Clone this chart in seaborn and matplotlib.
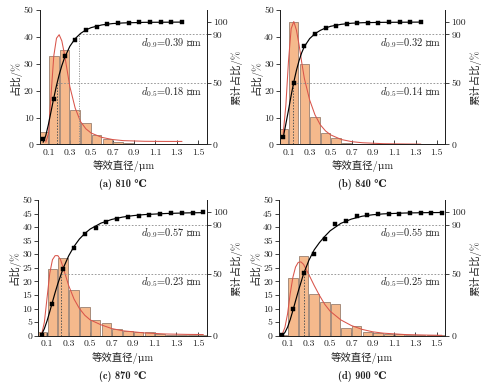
import matplotlib
matplotlib.use("Agg")
import matplotlib.pyplot as plt
import matplotlib.transforms as mtransforms
import seaborn as sns

sns.set_style("ticks")
plt.rcParams['font.family'] = ['cmr10', 'DejaVu Serif', 'Noto Sans CJK SC']
plt.rcParams['mathtext.fontset'] = 'cm'
plt.rcParams['axes.formatter.use_mathtext'] = True
plt.rcParams['axes.unicode_minus'] = False

# ---------------- data ----------------
centers_ab = [0.05, 0.15, 0.25, 0.35, 0.45, 0.55, 0.65, 0.75, 0.85, 0.95, 1.05, 1.15, 1.25, 1.35]
centers_cd = [0.05, 0.15, 0.25, 0.35, 0.45, 0.55, 0.65, 0.75, 0.85, 0.95, 1.05, 1.15, 1.25, 1.35, 1.45, 1.55]

bars_a = [4.7, 32.8, 35.0, 12.8, 8.0, 3.6, 2.0, 1.0, 0.4, 0.3, 0.2, 0.1, 0.1, 0.1]
bars_b = [5.8, 45.7, 29.8, 10.3, 4.1, 2.4, 0.5, 0.3, 0.1, 0.1, 0.1, 0.1, 0.1, 0.1]
bars_c = [1.2, 24.4, 28.8, 16.9, 10.5, 5.6, 4.7, 2.4, 1.8, 1.5, 1.3, 0.5, 0.4, 0.4, 0.2, 0.3]
bars_d = [0.3, 21.2, 29.3, 15.2, 12.3, 11.6, 2.8, 3.7, 1.4, 1.0, 0.7, 0.5, 0.4, 0.4, 0.3, 0.2]

cum_a = [4.6, 37.4, 72.2, 85.2, 93.2, 96.1, 98.3, 99.1, 99.5, 99.7, 99.8, 99.9, 100.0, 100.0]
cum_b = [6.0, 50.4, 80.4, 90.3, 94.9, 97.1, 98.2, 99.0, 99.4, 99.6, 99.8, 99.9, 100.0, 100.0]
cum_c = [0.5, 25.5, 54.3, 71.4, 82.0, 87.4, 92.2, 94.4, 96.0, 97.1, 98.0, 98.8, 99.3, 99.6, 99.8, 100.0]
cum_d = [0.5, 21.7, 51.0, 66.5, 78.7, 90.3, 93.3, 97.1, 97.7, 98.5, 98.8, 99.0, 99.2, 99.4, 99.5, 99.6]

# fitted distribution curves
red_x_a = [0.075, 0.1, 0.125, 0.15, 0.175, 0.2, 0.225, 0.25, 0.275, 0.3, 0.35, 0.4, 0.45, 0.5, 0.6, 0.7, 0.8, 1.0, 1.2, 1.35]
red_y_a = [0.8, 4.0, 19.0, 33.0, 39.5, 40.8, 38.5, 33.5, 27.5, 21.5, 13.5, 8.5, 5.8, 4.2, 2.6, 1.8, 1.4, 1.15, 1.1, 1.1]
red_x_b = [0.05, 0.075, 0.1, 0.125, 0.15, 0.175, 0.2, 0.225, 0.25, 0.3, 0.35, 0.4, 0.45, 0.5, 0.6, 0.7, 0.8, 1.0, 1.2, 1.35]
red_y_b = [4.0, 14.5, 31.0, 43.0, 45.7, 42.5, 37.0, 30.5, 24.5, 16.5, 11.0, 7.3, 5.0, 3.5, 1.8, 1.0, 0.6, 0.25, 0.15, 0.1]
red_x_c = [0.05, 0.075, 0.1, 0.125, 0.15, 0.175, 0.2, 0.225, 0.25, 0.3, 0.35, 0.4, 0.45, 0.5, 0.6, 0.7, 0.8, 1.0, 1.2, 1.4, 1.55]
red_y_c = [0.5, 5.0, 14.0, 23.0, 28.0, 29.5, 29.5, 28.0, 25.0, 18.5, 13.5, 10.0, 7.5, 5.8, 4.0, 2.6, 1.8, 1.0, 0.6, 0.45, 0.4]
red_x_d = [0.05, 0.075, 0.1, 0.125, 0.15, 0.175, 0.2, 0.225, 0.25, 0.3, 0.35, 0.4, 0.45, 0.5, 0.6, 0.7, 0.8, 0.9, 1.0, 1.2, 1.4, 1.55]
red_y_d = [0.5, 3.0, 8.0, 15.5, 21.5, 25.3, 27.0, 27.2, 26.3, 22.5, 18.5, 14.8, 11.5, 9.0, 5.8, 3.7, 2.3, 1.4, 0.9, 0.4, 0.2, 0.1]

blk_x_ab = [0.05, 0.075, 0.1, 0.125, 0.15, 0.175, 0.2, 0.225, 0.25, 0.3, 0.35, 0.4, 0.45, 0.5, 0.6, 0.7, 0.8, 1.0, 1.2, 1.35]
blk_y_a = [1.7, 7.3, 16.5, 27.3, 38.1, 48.1, 56.9, 64.4, 70.7, 80.2, 86.5, 90.7, 93.6, 95.5, 97.7, 98.8, 99.3, 99.8, 99.9, 100.0]
blk_y_b = [5.5, 16.7, 28.0, 40.0, 51.0, 60.5, 68.5, 75.0, 80.0, 86.5, 90.5, 93.2, 95.2, 96.6, 98.2, 99.1, 99.5, 99.8, 99.9, 100.0]
blk_x_cd = [0.05, 0.075, 0.1, 0.125, 0.15, 0.175, 0.2, 0.25, 0.3, 0.35, 0.4, 0.45, 0.5, 0.6, 0.7, 0.8, 0.9, 1.0, 1.2, 1.4, 1.55]
blk_y_c = [1.0, 5.7, 12.0, 19.5, 27.3, 35.0, 42.2, 54.7, 64.6, 72.3, 78.3, 82.8, 86.4, 91.2, 94.2, 96.1, 97.3, 98.1, 99.0, 99.5, 99.7]
blk_y_d = [0.4, 2.5, 6.8, 13.0, 20.3, 28.1, 35.8, 50.0, 61.0, 69.5, 75.5, 80.5, 85.0, 91.0, 94.5, 96.8, 98.0, 98.7, 99.4, 99.7, 99.8]

d50 = [0.18, 0.14, 0.23, 0.25]
d90 = [0.39, 0.32, 0.57, 0.55]
show_d90_vline = [True, False, False, False]
titles = ["(a) 810 \u2103", "(b) 840 \u2103", "(c) 870 \u2103", "(d) 900 \u2103"]
left_ticks_ab = [0, 10, 20, 30, 40, 50]
left_ticks_cd = [0, 5, 10, 15, 20, 25, 30, 35, 40, 45, 50]
right_ticks = [0, 50, 90, 100]
x_ticks = [0.1, 0.3, 0.5, 0.7, 0.9, 1.1, 1.3, 1.5]
x_tick_labels = ["0.1", "0.3", "0.5", "0.7", "0.9", "1.1", "1.3", "1.5"]

panels = [
    dict(c=centers_ab, bars=bars_a, cum=cum_a, rx=red_x_a, ry=red_y_a, bx=blk_x_ab, by=blk_y_a, lt=left_ticks_ab),
    dict(c=centers_ab, bars=bars_b, cum=cum_b, rx=red_x_b, ry=red_y_b, bx=blk_x_ab, by=blk_y_b, lt=left_ticks_ab),
    dict(c=centers_cd, bars=bars_c, cum=cum_c, rx=red_x_c, ry=red_y_c, bx=blk_x_cd, by=blk_y_c, lt=left_ticks_cd),
    dict(c=centers_cd, bars=bars_d, cum=cum_d, rx=red_x_d, ry=red_y_d, bx=blk_x_cd, by=blk_y_d, lt=left_ticks_cd),
]

# layout (figure fractions)
rects = [
    [0.081, 0.624, 0.338, 0.350],
    [0.568, 0.624, 0.335, 0.350],
    [0.078, 0.126, 0.341, 0.353],
    [0.566, 0.126, 0.337, 0.353],
]

BAR_FACE = "#F5B98C"
BAR_EDGE = "#9A8070"
RED = "#D9544A"
AX_COL = "#222222"
XMIN, XMAX = 0.02, 1.58
RMAX = 109.9
FS = 7

fig = plt.figure(figsize=(4.93, 3.84), dpi=100)

for i, p in enumerate(panels):
    ax = fig.add_axes(rects[i])
    sns.barplot(x=p["c"], y=p["bars"], native_scale=True, width=0.88, color=BAR_FACE,
                saturation=1, edgecolor=BAR_EDGE, linewidth=0.6, errorbar=None, ax=ax, zorder=2)
    sns.lineplot(x=p["rx"], y=p["ry"], color=RED, linewidth=0.75, ax=ax, zorder=3)
    ax.set_xlim(XMIN, XMAX)
    ax.set_ylim(0, 50)
    ax.set_xticks(x_ticks)
    ax.set_xticklabels(x_tick_labels)
    ax.set_yticks(p["lt"])
    ax.set_yticklabels([str(t) for t in p["lt"]])
    ax.tick_params(axis='x', direction='in', length=3, width=0.6, labelsize=FS, pad=3, colors=AX_COL)
    ax.tick_params(axis='y', direction='out', length=3, width=0.6, labelsize=FS, pad=1.5, colors=AX_COL)
    ax.spines['top'].set_visible(False)
    for s in ['left', 'bottom', 'right']:
        ax.spines[s].set_linewidth(0.7)
        ax.spines[s].set_color(AX_COL)
    ax.set_xlabel("等效直径/μm", fontsize=7.5, labelpad=2.5, color=AX_COL)
    ax.set_ylabel("占比/%", fontsize=7.5, color=AX_COL)
    ax.yaxis.label.set(rotation=90, ha='center', va='center', rotation_mode='anchor')
    ax.yaxis.set_label_coords(-0.145, 0.5)
    ax.text(0.5, -0.30, titles[i], transform=ax.transAxes, ha='center', va='center',
            fontsize=7.5, fontweight='bold', color=AX_COL,
            family=['cmb10', 'DejaVu Serif', 'Noto Sans CJK SC'])

    ax2 = ax.twinx()
    ax2.set_ylim(0, RMAX)
    ax2.set_xlim(XMIN, XMAX)
    # guide lines
    ax2.plot([d50[i], XMAX], [50, 50], color="#8a8a8a", lw=0.6, ls=(0, (2, 2)), zorder=2)
    ax2.plot([d90[i], XMAX], [90, 90], color="#8a8a8a", lw=0.6, ls=(0, (2, 2)), zorder=2)
    ax2.plot([d50[i], d50[i]], [0, 50], color="#555555", lw=0.7, ls=(0, (1.5, 1.5)), zorder=2)
    if show_d90_vline[i]:
        ax2.plot([d90[i], d90[i]], [0, 90], color="#8a8a8a", lw=0.6, ls=(0, (1.5, 1.5)), zorder=2)
    sns.lineplot(x=p["bx"], y=p["by"], color="black", linewidth=0.85, ax=ax2, zorder=4)
    sns.scatterplot(x=p["c"], y=p["cum"], marker='s', s=5, color="black", edgecolor="black",
                    linewidth=0.3, ax=ax2, zorder=5)
    ax2.set_yticks(right_ticks)
    ax2.set_yticklabels([str(t) for t in right_ticks])
    ax2.tick_params(axis='y', direction='out', length=3, width=0.6, labelsize=FS, pad=1.5, colors=AX_COL)
    ax2.spines['top'].set_visible(False)
    for s in ['left', 'bottom', 'right']:
        ax2.spines[s].set_linewidth(0.7)
        ax2.spines[s].set_color(AX_COL)
    ax2.set_ylabel("累计占比/%", fontsize=7.5, color=AX_COL)
    ax2.yaxis.label.set(rotation=90, ha='center', va='center', rotation_mode='anchor')
    ax2.yaxis.set_label_coords(1.18, 0.5)
    tr = mtransforms.blended_transform_factory(ax2.transAxes, ax2.transData)
    ax2.text(0.975, 83.0, r"$d_{0.9}$=%.2f μm" % d90[i], transform=tr, ha='right', va='center',
             fontsize=7.5, color=AX_COL)
    ax2.text(0.975, 43.0, r"$d_{0.5}$=%.2f μm" % d50[i], transform=tr, ha='right', va='center',
             fontsize=7.5, color=AX_COL)

fig.savefig("out.png", dpi=100)
